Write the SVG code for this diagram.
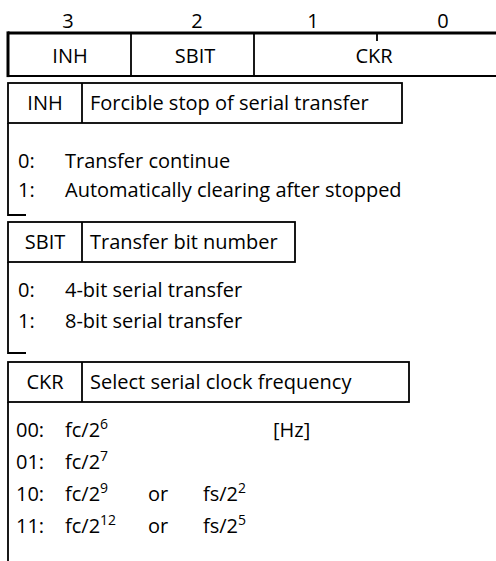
<svg xmlns="http://www.w3.org/2000/svg" width="496" height="561" viewBox="0 0 496 561">
<style>
text { font-family: "Open Sans", "Noto Sans", sans-serif; font-size: 20px; fill: #000; }
.c { text-anchor: middle; }
.sup { font-size: 14px; }
.ln { stroke: #000; stroke-width: 1.8; fill: none; }
.box { fill: #fff; stroke: #000; stroke-width: 1.8; }
</style>
<rect width="496" height="561" fill="#fff"/>

<g id="bit-numbers">
  <text class="c" x="68" y="28">3</text>
  <text class="c" x="197" y="28">2</text>
  <text class="c" x="313" y="28">1</text>
  <text class="c" x="443" y="28">0</text>
</g>

<g id="register">
  <line class="ln" x1="8" y1="33" x2="496" y2="33" style="stroke-width:3.2"/>
  <line class="ln" x1="8" y1="76" x2="496" y2="76" style="stroke-width:2.2"/>
  <line class="ln" x1="8" y1="31.4" x2="8" y2="77.1" style="stroke-width:3"/>
  <line class="ln" x1="131" y1="33" x2="131" y2="76"/>
  <line class="ln" x1="254" y1="33" x2="254" y2="76"/>
  <line class="ln" x1="377" y1="33" x2="377" y2="41"/>
  <text class="c" x="70" y="63">INH</text>
  <text class="c" x="195" y="63">SBIT</text>
  <text class="c" x="374" y="63">CKR</text>
</g>

<g id="inh">
  <rect class="box" x="8" y="83" width="394" height="40"/>
  <line class="ln" x1="82" y1="83" x2="82" y2="123"/>
  <text class="c" x="45" y="110">INH</text>
  <text x="90" y="110">Forcible stop of serial transfer</text>
  <path class="ln" d="M8 123 V215 H26"/>
  <text x="18" y="168">0:</text>
  <text x="65" y="168">Transfer continue</text>
  <text x="18" y="197">1:</text>
  <text x="65" y="197">Automatically clearing after stopped</text>
</g>

<g id="sbit">
  <rect class="box" x="8" y="222" width="287" height="40"/>
  <line class="ln" x1="82" y1="222" x2="82" y2="262"/>
  <text class="c" x="45" y="249">SBIT</text>
  <text x="90" y="249">Transfer bit number</text>
  <path class="ln" d="M8 262 V353 H26"/>
  <text x="18" y="297">0:</text>
  <text x="65" y="297">4-bit serial transfer</text>
  <text x="18" y="328">1:</text>
  <text x="65" y="328">8-bit serial transfer</text>
</g>

<g id="ckr">
  <rect class="box" x="8" y="362" width="401" height="40"/>
  <line class="ln" x1="82" y1="362" x2="82" y2="402"/>
  <text class="c" x="45" y="389">CKR</text>
  <text x="90" y="389">Select serial clock frequency</text>
  <path class="ln" d="M8 402 V561"/>
  <text x="16" y="437">00:</text>
  <text x="65" y="437">fc/2<tspan class="sup" dy="-8">6</tspan></text>
  <text x="273" y="437">[Hz]</text>
  <text x="16" y="469">01:</text>
  <text x="65" y="469">fc/2<tspan class="sup" dy="-8">7</tspan></text>
  <text x="16" y="501">10:</text>
  <text x="65" y="501">fc/2<tspan class="sup" dy="-8">9</tspan></text>
  <text x="148" y="501">or</text>
  <text x="203" y="501">fs/2<tspan class="sup" dy="-8">2</tspan></text>
  <text x="16" y="533">11:</text>
  <text x="65" y="533">fc/2<tspan class="sup" dy="-8">12</tspan></text>
  <text x="148" y="533">or</text>
  <text x="203" y="533">fs/2<tspan class="sup" dy="-8">5</tspan></text>
</g>
</svg>
